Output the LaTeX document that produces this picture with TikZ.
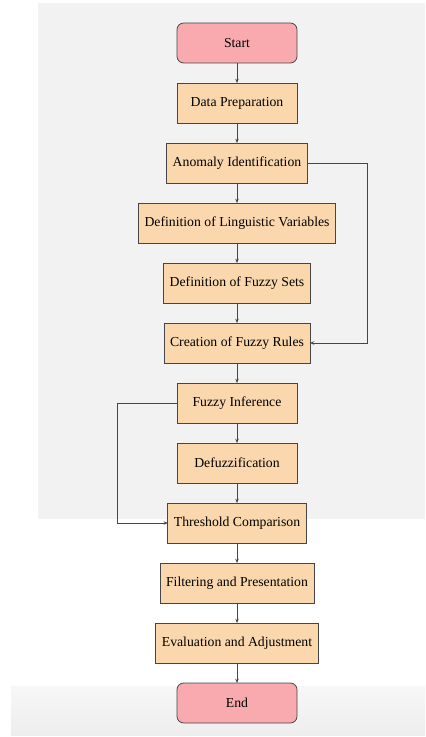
\documentclass[tikz,border=0pt]{standalone}
\usepackage{fontspec}
\setmainfont{Liberation Serif}
\usetikzlibrary{arrows.meta, positioning}

\definecolor{stepfill}{RGB}{250,215,172}
\definecolor{termfill}{RGB}{248,170,174}
\definecolor{linegray}{RGB}{70,70,70}
\definecolor{backgray}{RGB}{242,242,242}

\begin{document}
\begin{tikzpicture}[x=0.75pt, y=0.75pt,
  stepbox/.style={rectangle, draw=linegray, fill=stepfill, line width=0.6pt,
                  minimum width=90pt, minimum height=30pt, inner xsep=4.5pt,
                  outer sep=0pt, font=\fontsize{10.3}{12}\selectfont},
  termbox/.style={stepbox, fill=termfill, rounded corners=5pt},
  flow/.style={-{Stealth[length=3.2pt,width=2.6pt]}, line width=0.6pt, linegray},
  node distance=15pt,
]

%% ============ BACKGROUND ============
\useasboundingbox (0,0) rectangle (425,-737);
\fill[backgray] (38,-3) rectangle (425,-519);
\shade[top color=black!3, bottom color=black!7] (11,-686) rectangle (425,-735);

%% ============ MAIN CHAIN ============
\node[termbox] (start) at (237,-43) {Start};
\node[stepbox, below=of start]   (prep)    {Data Preparation};
\node[stepbox, below=of prep]    (anomaly) {Anomaly Identification};
\node[stepbox, below=of anomaly] (lingvar) {Definition of Linguistic Variables};
\node[stepbox, below=of lingvar] (fsets)   {Definition of Fuzzy Sets};
\node[stepbox, below=of fsets]   (rules)   {Creation of Fuzzy Rules};
\node[stepbox, below=of rules]   (infer)   {Fuzzy Inference};
\node[stepbox, below=of infer]   (defuzz)  {Defuzzification};
\node[stepbox, below=of defuzz]  (thresh)  {Threshold Comparison};
\node[stepbox, below=of thresh]  (filter)  {Filtering and Presentation};
\node[stepbox, below=of filter]  (evaluate){Evaluation and Adjustment};
\node[termbox, below=of evaluate] (end)    {End};

% straight arrows
\foreach \a/\b in {start/prep, prep/anomaly, anomaly/lingvar, lingvar/fsets,
                   fsets/rules, rules/infer, infer/defuzz, defuzz/thresh,
                   thresh/filter, filter/evaluate, evaluate/end}{
  \draw[flow] (\a.south) -- (\b.north);
}

%% ============ SIDE LOOPS ============
\coordinate (rloop) at (367,0);
\coordinate (lloop) at (117,0);

\draw[flow] (anomaly.east) -- (anomaly.east -| rloop) |- (rules.east);
\draw[flow] (infer.west) -- (infer.west -| lloop) |- (thresh.west);

\end{tikzpicture}
\end{document}
